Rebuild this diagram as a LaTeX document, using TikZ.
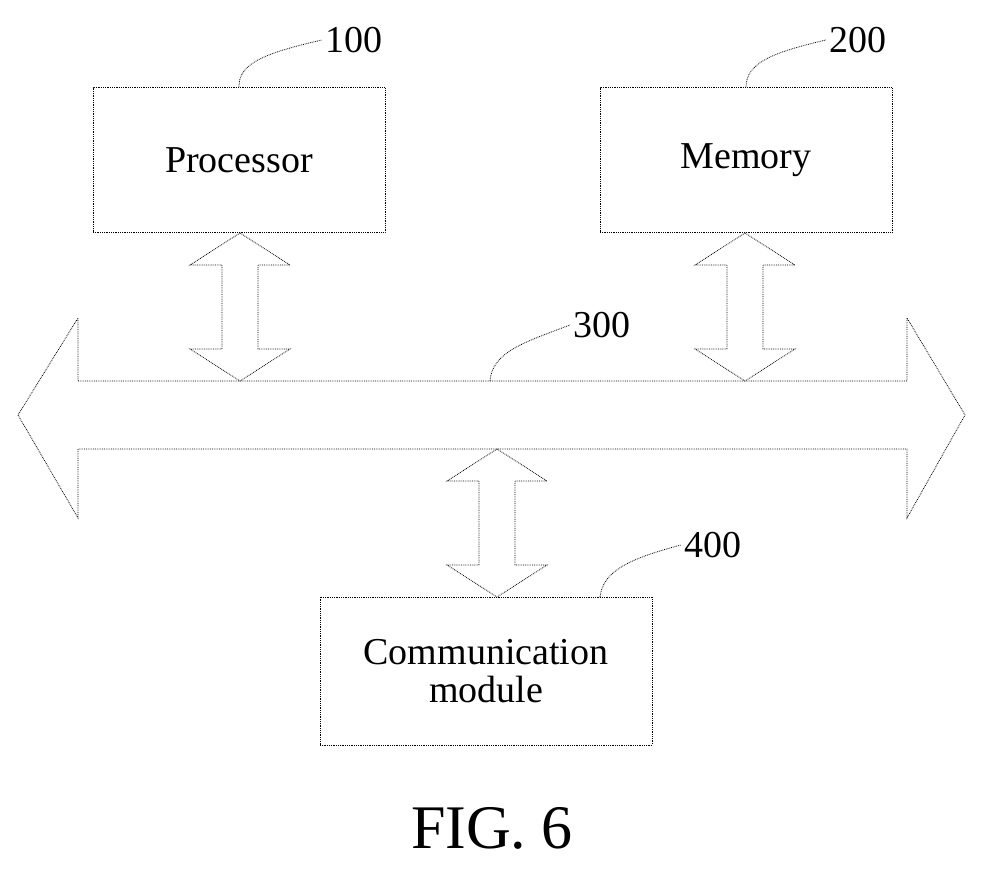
\documentclass[tikz,border=0pt]{standalone}
\usepackage{fontspec}
\setmainfont{Liberation Serif}
\usetikzlibrary{positioning}

% vertical hollow double arrow: centre x, top tip, bottom tip, head length
\newcommand{\vdblarrow}[4]{%
  \draw [outline] (#1,#2) -- (#1+50,#2+#4) -- (#1+18,#2+#4) -- (#1+18,#3-#4)
    -- (#1+50,#3-#4) -- (#1,#3) -- (#1-50,#3-#4) -- (#1-18,#3-#4)
    -- (#1-18,#2+#4) -- (#1-50,#2+#4) -- cycle;}

\begin{document}
\begin{tikzpicture}[x=1pt, y=-1pt,
    outline/.style={densely dotted, line width=0.8pt},
    box/.style={outline, draw, minimum width=292pt, minimum height=145pt,
      font=\fontsize{38}{42}\selectfont, align=center},
    reflabel/.style={font=\fontsize{38}{42}\selectfont},
    leader/.style={densely dotted, line width=0.8pt}]
    \useasboundingbox (0,0) rectangle (985,878);

    % Boxes
    \node [box] (proc) at (239,160) {Processor};
    \node [box] (mem) at (746,160) {Memory};
    \node [box, minimum width=332pt, minimum height=148pt] (comm) at (486,671)
      {Communication\\[-4pt]module};

    % Bus
    \draw [outline] (78,381) -- (907,381) -- (907,318) -- (965,415) -- (907,518)
      -- (907,449) -- (78,449) -- (78,518) -- (18,415) -- (78,318) -- cycle;

    % Arrows to the bus
    \vdblarrow{240}{233}{381}{32}
    \vdblarrow{745}{233}{381}{32}
    \vdblarrow{497}{449}{597}{32}

    % Reference numerals
    \node [reflabel] (n100) at (354,40) {100};
    \node [reflabel] (n200) at (858,40) {200};
    \node [reflabel] (n300) at (602,325) {300};
    \node [reflabel] (n400) at (713,545) {400};
    \draw [leader] (proc.north) .. controls (238,62) and (270,52) .. (n100.west);
    \draw [leader] (mem.north) .. controls (746,62) and (775,52) .. (n200.west);
    \draw [leader] (490,381) .. controls (492,352) and (525,342) .. (n300.west);
    \draw [leader] (600,597) .. controls (603,570) and (632,558) .. (n400.west);

    \node [font=\fontsize{62}{66}\selectfont] (fig) at (492,828) {FIG. 6};
\end{tikzpicture}
\end{document}
